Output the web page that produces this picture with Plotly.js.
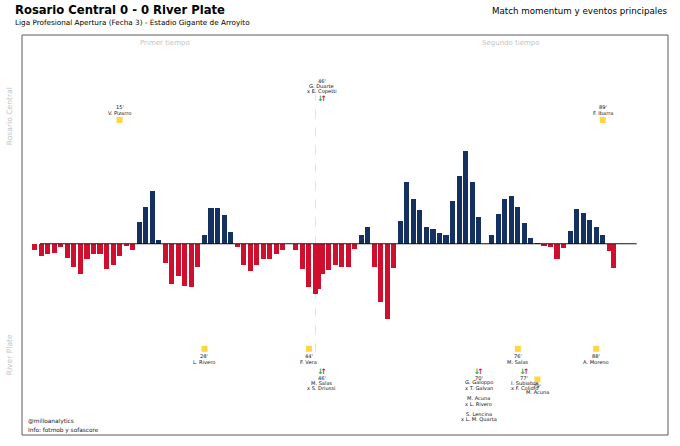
<!DOCTYPE html>
<html>
<head>
<meta charset="utf-8">
<script src="https://cdn.plot.ly/plotly-3.0.1.min.js"></script>
<style>
  html, body { margin: 0; padding: 0; background: #fff; }
  #chart { width: 680px; height: 446px; }
</style>
</head>
<body>
<div id="chart"></div>
<script>
// momentum per minute, + is Rosario Central, - is River Plate
const minutes = [2,3,4,5,6,7,8,9,10,11,12,13,14,15,16,17,18,19,20,21,22,23,24,25,26,27,28,29,30,31,32,33,34,35,36,37,38,39,40,41,42,43,44,45,45.5,46,47,48,49,50,51,52,53,54,55,56,57,58,59,60,61,62,63,64,65,66,67,68,69,70,71,72,73,74,75,76,77,78,79,80,81,82,83,84,85,86,87,88,89,90,90.6];
const momentum = [-7,-13,-11,-10,-4,-15,-25,-33,-16,-11,-11,-27,-23,-13,-2,-7,23,39,57,4,-21,-43,-35,-45,-47,-25,9,38,38,31,13,-4,-23,-29,-23,-16,-16,-11,-7,0,-7,-27,-47,-54,-49,-33,-28,-23,-25,-25,-6,9,18,-25,-63,-81,-26,24,66,48,36,18,16,11,9,46,73,100,66,29,0,9,32,48,51,40,22,6,1,-2,-4,-16,-5,14,37,33,25,18,9,-8,-26];

const firstHalfLabel = "Primer tiempo";
const secondHalfLabel = "Segundo tiempo";

// [minute, name]
const homeCards = [[15, "V. Pizarro"], [89, "F. Ibarra"]];
const awayCards = [[28, "L. Rivero"], [44, "F. Vera"], [76, "M. Salas"], [88, "A. Moreno"]];
const lowCards = [[79, "M. Acuna"]];

// [minute, label minute, lines]
const homeSubs = [[46, "46'", ["G. Duarte", "x E. Copetti"]]];
const awaySubs = [
  [46, "46'", ["M. Salas", "x S. Driussi"]],
  [70, "70'", ["G. Galoppo", "x T. Galvan", "", "M. Acuna", "x L. Rivero", "", "S. Lencina", "x L. M. Quarta"]],
  [77, "77'", ["I. Subiabre", "x F. Colidio"]]
];

const FONT = "DejaVu Sans";
const BLUE = "#14315f";
const RED = "#cf0f2d";
const GOLD = "#ffd63f";
const GRAY = "#c4c4c4";
const EVENT_SIZE = 5.1;

const annotations = [];

function note(x, y, text, size, color, extra) {
  annotations.push(Object.assign({
    x: x, y: y, xref: "x", yref: "y", text: text, showarrow: false, borderpad: 0, borderwidth: 0,
    font: { family: FONT, size: size, color: color }, xanchor: "center", yanchor: "middle"
  }, extra || {}));
}

function paperNote(x, y, text, size, color, anchor) {
  note(x, y, text, size, color, { xref: "paper", yref: "paper", xanchor: anchor });
}

const cardX = [], cardY = [];
function addCard(c, cardLevel, minuteLevel, nameLevel) {
  cardX.push(c[0]);
  cardY.push(cardLevel);
  note(c[0], minuteLevel, c[0] + "'", EVENT_SIZE, "#111");
  note(c[0], nameLevel, c[1], EVENT_SIZE, "#111");
}
homeCards.forEach(c => addCard(c, 133, 147, 140.5));
awayCards.forEach(c => addCard(c, -113, -121, -127.5));
lowCards.forEach(c => addCard(c, -146, -153, -159));

const subX = [], subY = [];
function addSub(s, arrowLevel, firstLevel, step) {
  subX.push(s[0]);
  subY.push(arrowLevel);
  note(s[0], firstLevel, s[1], EVENT_SIZE, "#111");
  s[2].forEach((line, i) => {
    if (line) note(s[0], firstLevel - step * (i + 1), line, EVENT_SIZE, "#111");
  });
}
homeSubs.forEach(s => addSub(s, 155, 175, 5.6));
awaySubs.forEach(s => addSub(s, -138, -144, 5.6));

note(22, 216, firstHalfLabel, 7, GRAY);
note(74.9, 216, secondHalfLabel, 7, GRAY);

note(-0.0201, 137, "Rosario Central", 7.6, GRAY, { xref: "paper", textangle: -90 });
note(-0.0201, -120, "River Plate", 7.6, GRAY, { xref: "paper", textangle: -90 });

paperNote(-0.0108, 1.062, "<b>Rosario Central 0 - 0 River Plate</b>", 11.6, "#000", "left");
paperNote(-0.0108, 1.03, "Liga Profesional Apertura (Fecha 3) - Estadio Gigante de Arroyito", 7.25, "#000", "left");
paperNote(1, 1.06, "Match momentum y eventos principales", 8.7, "#000", "right");
paperNote(0.0093, 0.034, "@milloanalytics", 5.8, "#222", "left");
paperNote(0.0093, 0.0125, "Info: fotmob y sofascore", 5.8, "#222", "left");

const traces = [
  {
    type: "bar", x: minutes, y: momentum, width: 0.78,
    marker: { color: momentum.map(v => v >= 0 ? BLUE : RED), line: { width: 0 } },
    hoverinfo: "skip"
  },
  {
    // zero line, a bit shorter than the axis
    type: "scatter", mode: "lines", x: [2.8, 94.2], y: [0, 0],
    line: { color: "#111", width: 1.1 }, hoverinfo: "skip"
  },
  {
    type: "scatter", mode: "markers", x: cardX, y: cardY,
    marker: { symbol: "square", size: 6, color: GOLD }, hoverinfo: "skip"
  },
  {
    type: "scatter", mode: "text", x: subX.map(m => m - 0.26), y: subY, text: subX.map(() => "<b>↓</b>"),
    textposition: "middle center", textfont: { family: FONT, size: 7.5, color: "#2e9e3f" }, hoverinfo: "skip"
  },
  {
    type: "scatter", mode: "text", x: subX.map(m => m + 0.26), y: subY, text: subX.map(() => "<b>↑</b>"),
    textposition: "middle center", textfont: { family: FONT, size: 7.5, color: "#c8202a" }, hoverinfo: "skip"
  }
];

const layout = {
  width: 680, height: 446,
  margin: { l: 22, r: 12, t: 35, b: 11, pad: 0 },
  paper_bgcolor: "#fff", plot_bgcolor: "#fff",
  showlegend: false, hovermode: false, bargap: 0,
  font: { family: FONT },
  xaxis: { range: [0.05, 99], showgrid: false, zeroline: false, showticklabels: false, ticks: "", showline: false, fixedrange: true },
  yaxis: { range: [-205.7, 224.4], showgrid: false, zeroline: false, showticklabels: false, ticks: "", showline: false, fixedrange: true },
  shapes: [
    { type: "line", xref: "x", yref: "y", x0: 45, x1: 45, y0: -117, y1: 160, layer: "below",
      line: { color: "#e2e2e2", width: 1, dash: "dash" } },
    { type: "rect", xref: "paper", yref: "paper", x0: 0, x1: 1, y0: 0, y1: 1,
      line: { color: "#5a5a5a", width: 1 } }
  ],
  annotations: annotations
};

Plotly.newPlot("chart", traces, layout, { displayModeBar: false, staticPlot: true });
</script>
</body>
</html>
